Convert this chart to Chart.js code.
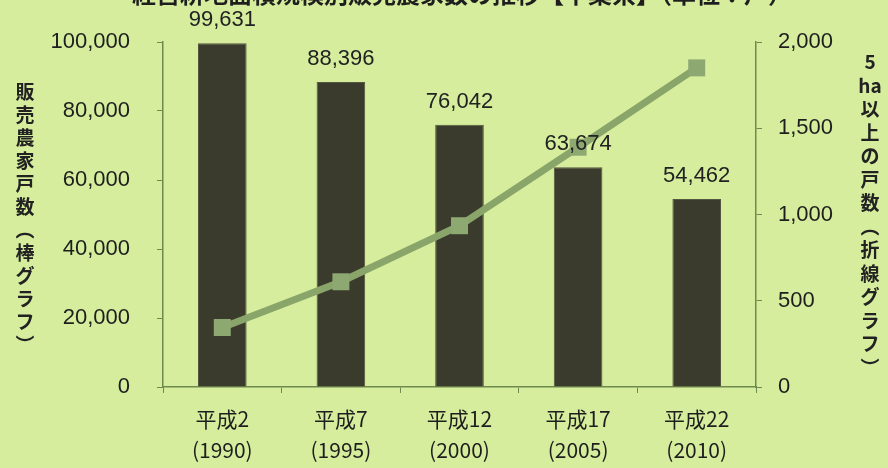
<!DOCTYPE html>
<html>
<head>
<meta charset="utf-8">
<script src="https://cdn.jsdelivr.net/npm/chart.js@4.4.1/dist/chart.umd.min.js"></script>
<style>
  html, body { margin: 0; padding: 0; background: #d5ed9c; }
  #wrap { width: 888px; height: 468px; }
</style>
</head>
<body>
<div id="wrap"><canvas id="chart" width="888" height="468"></canvas></div>
<script>
// data
var categories = [["平成2", "(1990)"], ["平成7", "(1995)"], ["平成12", "(2000)"], ["平成17", "(2005)"], ["平成22", "(2010)"]];
var farmHouseholds = [99631, 88396, 76042, 63674, 54462];
var over5ha = [345, 610, 935, 1390, 1850];
var titleText = "経営耕地面積規模別販売農家数の推移【千葉県】（単位：戸）";
var leftTitle = ["販","売","農","家","戸","数","︵","棒","グ","ラ","フ","︶"];
var rightTitle = ["5","ha","以","上","の","戸","数","︵","折","線","グ","ラ","フ","︶"];

var jpFont = "'Noto Sans CJK JP', 'Noto Sans', sans-serif";
var numFont = "'Liberation Sans', 'Noto Sans', sans-serif";
var axisColor = "#6f8a4e";

var bgPlugin = {
    id: "bg",
    beforeDraw: function(chart){
        var ctx = chart.ctx;
        ctx.save();
        ctx.fillStyle = "#d5ed9c";
        ctx.fillRect(0, 0, chart.width, chart.height);
        ctx.restore();
    }
};

var textPlugin = {
    id: "texts",
    afterDraw: function(chart){
        var ctx = chart.ctx;
        ctx.save();
        // title, cut off at the top like the scan
        ctx.fillStyle = "#1e1e1e";
        ctx.font = "bold 24px " + jpFont;
        ctx.textAlign = "left";
        ctx.textBaseline = "alphabetic";
        ctx.fillText(titleText, 132, 3);

        // value labels over the bars (bar dataset is index 1)
        var meta = chart.getDatasetMeta(1);
        ctx.font = "22px " + numFont;
        ctx.textAlign = "center";
        ctx.textBaseline = "bottom";
        ctx.fillStyle = "#222222";
        for(let i = 0; i < meta.data.length; i++){
            var bar = meta.data[i];
            ctx.fillText(farmHouseholds[i].toLocaleString("en-US"), bar.x, bar.y - 12);
        }

        // vertical axis titles
        ctx.font = "bold 19px " + jpFont;
        ctx.textBaseline = "middle";
        var y = 92;
        for(let i = 0; i < leftTitle.length; i++){
            ctx.fillText(leftTitle[i], 25, y);
            y += 23;
        }
        y = 62;
        for(let i = 0; i < rightTitle.length; i++){
            ctx.fillText(rightTitle[i], 870, y);
            y += 23.5;
        }
        ctx.restore();
    }
};

new Chart(document.getElementById("chart"), {
    data: {
        labels: categories,
        datasets: [{
            type: "line",
            data: over5ha,
            yAxisID: "y1",
            order: 0,
            borderColor: "#8aa56a",
            borderWidth: 7,
            pointStyle: "rect",
            pointRadius: 12,
            pointBackgroundColor: "#8ea872",
            pointBorderColor: "#8ea872",
            pointBorderWidth: 0
        }, {
            type: "bar",
            data: farmHouseholds,
            yAxisID: "y",
            order: 1,
            backgroundColor: "#3b3b2d",
            borderColor: "#55563f",
            borderWidth: 1,
            categoryPercentage: 1,
            barPercentage: 0.41
        }]
    },
    options: {
        responsive: false,
        animation: false,
        layout: { padding: { top: 42, left: 0, right: 0, bottom: 0 } },
        plugins: { legend: { display: false }, tooltip: { enabled: false } },
        scales: {
            x: {
                offset: true,
                grid: { offset: true, drawOnChartArea: false, color: axisColor, tickLength: 6 },
                border: { color: axisColor, width: 1.5 },
                ticks: { color: "#1e1e1e", font: { family: jpFont, size: 21, lineHeight: 1.5 }, padding: 10, maxRotation: 0 },
                afterFit: function(s){ s.height = 81; }
            },
            y: {
                position: "left",
                min: 0,
                max: 100000,
                grid: { drawOnChartArea: false, color: axisColor, tickLength: 6 },
                border: { color: axisColor, width: 1.5 },
                ticks: {
                    stepSize: 20000,
                    color: "#1e1e1e",
                    font: { family: numFont, size: 22 },
                    padding: 27,
                    callback: function(v){ return v.toLocaleString("en-US"); }
                },
                afterFit: function(s){ s.width = 163; }
            },
            y1: {
                position: "right",
                min: 0,
                max: 2000,
                grid: { drawOnChartArea: false, color: axisColor, tickLength: 6 },
                border: { color: axisColor, width: 1.5 },
                ticks: {
                    stepSize: 500,
                    color: "#1e1e1e",
                    font: { family: numFont, size: 22 },
                    padding: 16,
                    callback: function(v){ return v.toLocaleString("en-US"); }
                },
                afterFit: function(s){ s.width = 132; }
            }
        }
    },
    plugins: [bgPlugin, textPlugin]
});
</script>
</body>
</html>
